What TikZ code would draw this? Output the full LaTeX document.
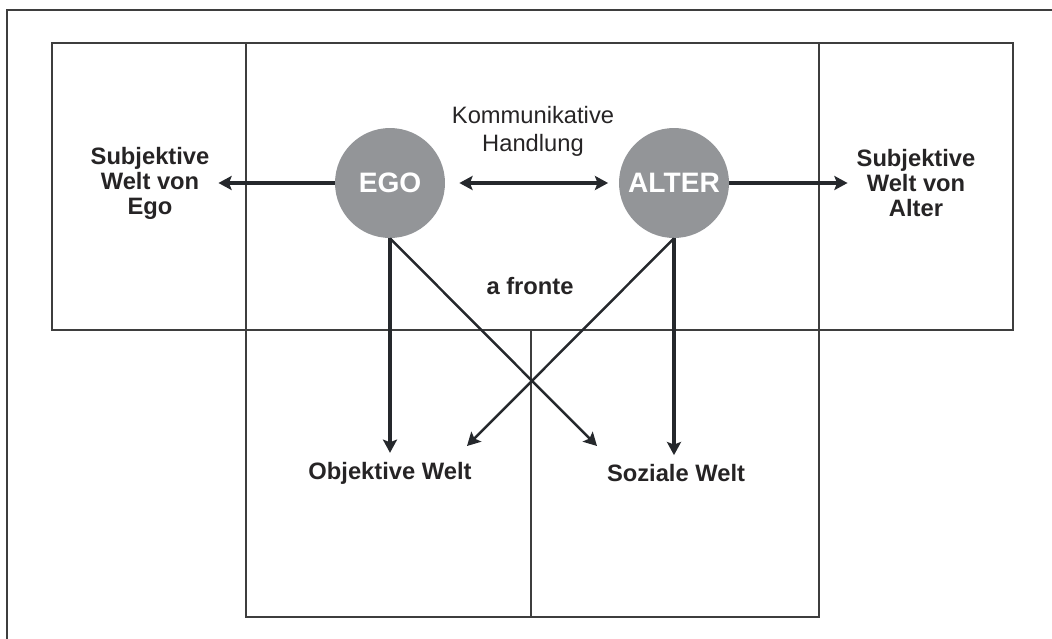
\documentclass[tikz,border=0pt]{standalone}
\usepackage{fontspec}
\setmainfont{Liberation Sans}
\usetikzlibrary{arrows.meta}
\definecolor{kreis}{RGB}{147,149,152}
\definecolor{linie}{RGB}{37,40,44}
\definecolor{rahmen}{RGB}{62,62,62}
\definecolor{schrift}{RGB}{38,36,37}

\begin{document}
\begin{tikzpicture}[x=0.02cm,y=-0.02cm]
\useasboundingbox (0,0) rectangle (1052,639);

% Rahmen und Felder
\begin{scope}[draw=rahmen, line width=0.6pt]
    \draw (7,639) -- (7,10) -- (1052,10);
    \draw (52,43) rectangle (1013,330);
    \draw (246,43) -- (246,330);
    \draw (819,43) -- (819,330);
    \draw (246,330) rectangle (819,617);
    \draw (531,330) -- (531,617);
\end{scope}

\begin{scope}[every node/.style={circle,fill=kreis,text=white,minimum size=2.2cm,inner sep=0pt,
              font=\fontsize{16}{19}\selectfont\bfseries}]
    \node (ego) at (390,183) {EGO};
    \node (alter) at (674,183) {ALTER};
\end{scope}

\begin{scope}[every node/.style={text=schrift,align=center,inner sep=5pt,
              font=\fontsize{13.5}{14.2}\selectfont\bfseries}]
    \node (subEgo) at (150,183) {Subjektive\\Welt von\\Ego};
    \node (subAlter) at (916,183) {Subjektive\\Welt von\\Alter};
    \node (komm)[font=\fontsize{13.5}{15.9}\selectfont] at (533,131) {Kommunikative\\Handlung};
    \node (fronte) at (530,286) {a fronte};
    \node (objWelt) at (390,473) {Objektive Welt};
    \node (sozWelt) at (676,473) {Soziale Welt};
\end{scope}

\coordinate (objEnd) at (467,446);
\coordinate (sozEnd) at (597,446);

\begin{scope}[every edge/.style={draw=linie,line width=2pt,
              -{Stealth[length=7.5pt,width=8pt,inset=1.5pt]}}]
    \path  (ego) edge (subEgo);
    \path  (alter) edge (subAlter);
    \path  (ego) edge[{Stealth[length=7.5pt,width=8pt,inset=1.5pt]}-{Stealth[length=7.5pt,width=8pt,inset=1.5pt]},
                      shorten <=8pt, shorten >=6pt] (alter);
    \path  (ego) edge (objWelt);
    \path  (alter) edge (alter |- sozWelt.north);
    \path  (ego.south) edge[line width=1.4pt] (sozEnd);
    \path  (alter.south) edge[line width=1.4pt] (objEnd);
\end{scope}
\end{tikzpicture}
\end{document}
